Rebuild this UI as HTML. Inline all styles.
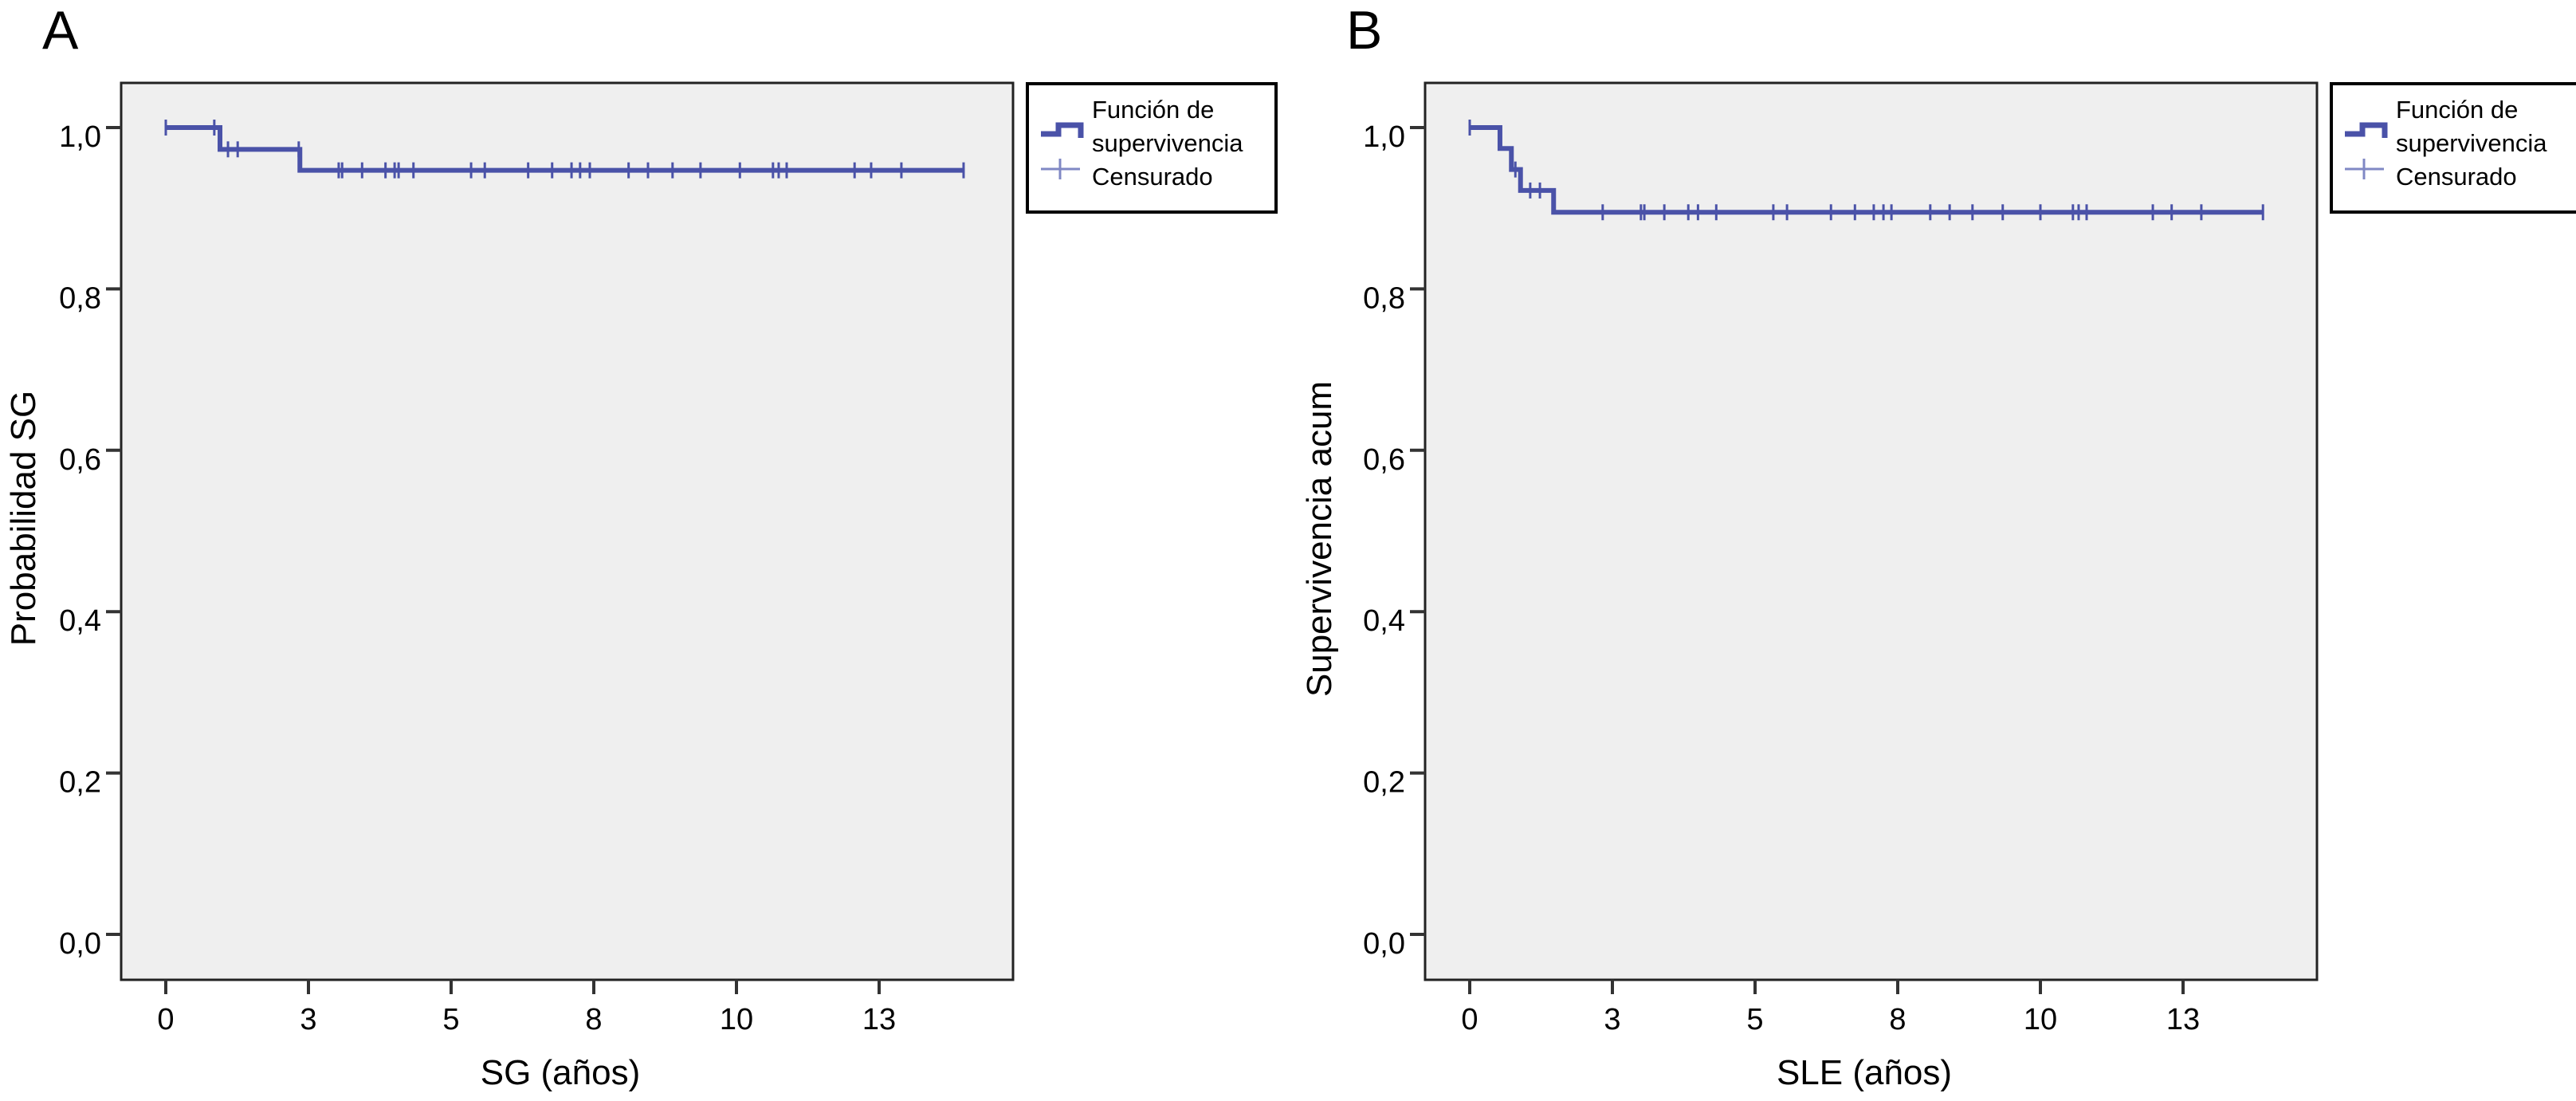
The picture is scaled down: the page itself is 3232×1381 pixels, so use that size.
<!DOCTYPE html>
<html><head><meta charset="utf-8"><style>
html,body{margin:0;padding:0;background:#fff;}
svg{display:block;font-family:"Liberation Sans",Arial,sans-serif;}
</style></head><body>
<svg id="chart" width="3232" height="1381" viewBox="0 0 3232 1381" xmlns="http://www.w3.org/2000/svg"></svg>
<script>
// Panel A data (SG)
const xTickValues = [0, 2.5, 5, 7.5, 10, 12.5];
const xTickLabels = ["0", "3", "5", "8", "10", "13"];
const yTickValues = [0, 0.2, 0.4, 0.6, 0.8, 1.0];
const yTickLabels = ["0,0", "0,2", "0,4", "0,6", "0,8", "1,0"];
const stepTimesA = [0, 0.95, 2.35, 14.0];
const stepSurvA = [1.0, 0.973, 0.947, 0.947];
const censorTimesA = [0, 0.85, 1.09, 1.26, 2.33, 3.03, 3.09, 3.44, 3.85, 4.01, 4.08, 4.34, 5.35, 5.59, 6.35, 6.77, 7.11, 7.26, 7.43, 8.11, 8.45, 8.88, 9.37, 10.06, 10.64, 10.74, 10.88, 12.07, 12.36, 12.89, 13.98];
// Panel B data (SLE)
const stepTimesB = [0, 0.53, 0.73, 0.89, 1.47, 13.9];
const stepSurvB = [1.0, 0.974, 0.948, 0.922, 0.895, 0.895];
const censorTimesB = [0, 0.80, 1.06, 1.23, 2.33, 3.0, 3.06, 3.41, 3.83, 4.0, 4.32, 5.32, 5.56, 6.33, 6.75, 7.08, 7.25, 7.39, 8.07, 8.41, 8.81, 9.34, 10.0, 10.57, 10.67, 10.81, 11.97, 12.30, 12.82, 13.9];

const NS = "http://www.w3.org/2000/svg";
const svg = document.getElementById("chart");
function mk(tag, attrs, parent, text) {
  const e = document.createElementNS(NS, tag);
  for (const k in attrs) e.setAttribute(k, attrs[k]);
  if (text !== undefined) e.textContent = text;
  (parent || svg).appendChild(e);
  return e;
}
function survAt(times, surv, t) {
  let s = surv[0];
  for (let i = 0; i < times.length; i++) if (t >= times[i]) s = surv[i];
  return s;
}
const LINE = "#4a52a8";

function panel(off, letter, prefix, xTitle, yTitle, times, surv, censors) {
  const g = mk("g", {});
  
  
  const L = 152 + off, R = 1271 + off, T = 104, B = 1229;
  const x0 = 208 + off, pxPerYear = 71.6;
  const X = t => x0 + t * pxPerYear;
  const Y = v => 1172 - v * 1012;

  const lt = mk("text", {x: 53 + off, y: 61, "font-size": 68}, g, letter);
  
  

  const bg = mk("rect", {x: L, y: T, width: R - L, height: B - T, fill: "#efefef", stroke: "#222", "stroke-width": 3}, g);
  
  

  yTickValues.forEach((v, i) => {
    const tk = mk("line", {x1: L - 19, x2: L, y1: Y(v), y2: Y(v), stroke: "#333", "stroke-width": 4}, g);
    
    
    const tl = mk("text", {x: L - 25, y: Y(v) + 24, "font-size": 38, "text-anchor": "end"}, g, yTickLabels[i]);
    
    
  });
  xTickValues.forEach((v, i) => {
    const tk = mk("line", {x1: X(v), x2: X(v), y1: B, y2: B + 18, stroke: "#333", "stroke-width": 4}, g);
    
    
    const tl = mk("text", {x: X(v), y: 1291, "font-size": 38, "text-anchor": "middle"}, g, xTickLabels[i]);
    
    
  });
  const xt = mk("text", {x: 703 + off, y: 1360, "font-size": 44, "text-anchor": "middle"}, g, xTitle);
  
  
  const yc = prefix === 'a' ? 650 : 676, yx = prefix === 'a' ? 44 : 1670;
  const yt = mk("text", {x: yx, y: yc, "font-size": 44, "text-anchor": "middle", transform: `rotate(-90 ${yx} ${yc})`}, g, yTitle);
  
  

  let d = `M${X(times[0])},${Y(surv[0])}`;
  for (let i = 1; i < times.length; i++) {
    d += ` H${X(times[i])} V${Y(surv[i])}`;
  }
  const path = mk("path", {d: d, fill: "none", stroke: LINE, "stroke-width": 6}, g);
  
  

  censors.forEach(t => {
    const y = Y(survAt(times, surv, t));
    const c = mk("line", {x1: X(t), x2: X(t), y1: y - 10, y2: y + 10, stroke: LINE, "stroke-width": 3}, g);
    
    
  });

  // legend
  const lg = mk("g", {}, g);
  
  
  mk("rect", {x: 1289 + off, y: 105, width: 312, height: 161, fill: "#fff", stroke: "#000", "stroke-width": 4}, lg);
  const e1 = mk("path", {d: `M${1306 + off},${168} H${1328 + off} V${157} H${1356 + off} V${173}`, fill: "none", stroke: LINE, "stroke-width": 7}, lg);
  
  
  const e2 = mk("path", {d: `M${1306 + off},${212} H${1355 + off} M${1330 + off},${199} V${225}`, stroke: "#8088c4", "stroke-width": 3}, lg);
  
  
  [["Función de", 148], ["supervivencia", 190], ["Censurado", 232]].forEach(([s, y]) => {
    const tx = mk("text", {x: 1370 + off, y: y, "font-size": 31}, lg, s);
    
    
  });
}
panel(0, "A", "a", "SG (años)", "Probabilidad SG", stepTimesA, stepSurvA, censorTimesA);
panel(1636, "B", "b", "SLE (años)", "Supervivencia acum", stepTimesB, stepSurvB, censorTimesB);
</script>
</body></html>
